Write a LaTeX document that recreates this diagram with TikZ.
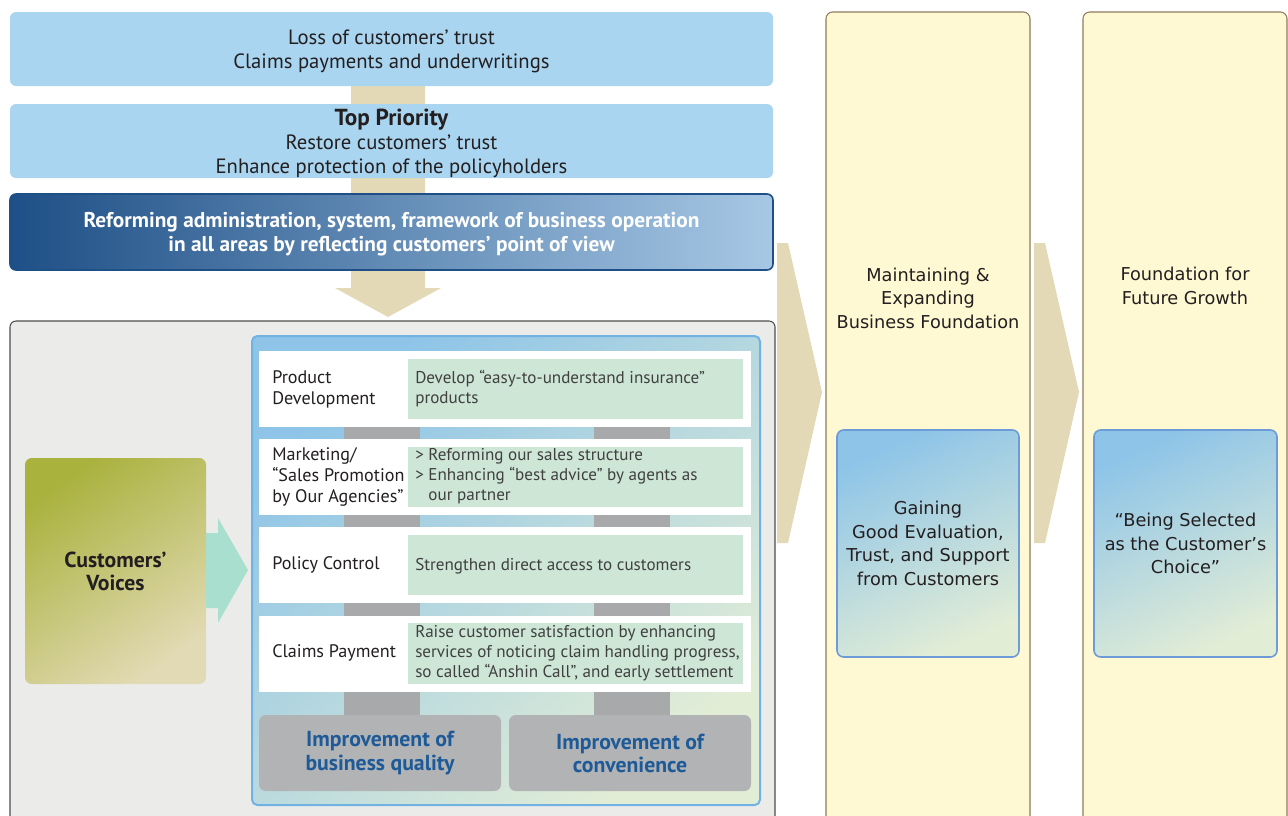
\documentclass[tikz,border=0pt]{standalone}
\usepackage{fontspec}
\setmainfont{PT Sans}
\newfontfamily\widefont{DejaVu Sans}
\usetikzlibrary{fit}

\definecolor{skyblue}{HTML}{A9D5F0}
\definecolor{sand}{HTML}{E3D9B6}
\definecolor{navy}{HTML}{1E4F86}
\definecolor{navylight}{HTML}{A7C8E5}
\definecolor{panelgray}{HTML}{EBECEA}
\definecolor{panelline}{HTML}{4D4D4D}
\definecolor{poolblue}{HTML}{8DC4E8}
\definecolor{poolgreen}{HTML}{E2EDD6}
\definecolor{poolline}{HTML}{72B2E2}
\definecolor{mint}{HTML}{CDE6D6}
\definecolor{linkgray}{HTML}{A8A9AB}
\definecolor{resultgray}{HTML}{B2B3B5}
\definecolor{textblue}{HTML}{1D5A97}
\definecolor{voiceolive}{HTML}{AAB23E}
\definecolor{voicebeige}{HTML}{E2DAB4}
\definecolor{voiceteal}{HTML}{A9DFCF}
\definecolor{cream}{HTML}{FFF9D3}
\definecolor{creamline}{HTML}{8C7B5E}
\definecolor{goalline}{HTML}{6C9BD8}
\definecolor{ink}{HTML}{231F20}
\definecolor{softink}{HTML}{404040}

\tikzset{
  issue/.style={fill=skyblue, rounded corners=4.5pt, inner sep=0pt},
  reform/.style={draw=navy, line width=1.2pt, rounded corners=4.5pt, left color=navy, right color=navylight, inner sep=0pt},
  toptext/.style={align=center, text=ink, yshift=-2pt, font=\fontsize{15.5}{18}\selectfont},
  panel/.style={fill=panelgray, draw=panelline, line width=0.8pt, rounded corners=4.5pt, inner sep=0pt},
  pool/.style={draw=poolline, line width=1.5pt, rounded corners=4pt, top color=poolblue, bottom color=poolgreen, shading angle=40, inner sep=0pt},
  row/.style={fill=white, inner sep=0pt},
  aim/.style={fill=mint, inner sep=0pt},
  rowlabel/.style={anchor=west, align=left, text=ink, font=\fontsize{13.6}{15.8}\selectfont, inner sep=0pt},
  aimtext/.style={anchor=west, align=left, text=softink, font=\fontsize{12.8}{15}\selectfont, inner sep=0pt},
  result/.style={fill=resultgray, rounded corners=5pt, inner sep=0pt, align=center, text=textblue, font=\bfseries\fontsize{16.3}{17.3}\selectfont},
  voice/.style={top color=voiceolive, bottom color=voicebeige, shading angle=35, rounded corners=5pt, inner sep=0pt},
  column/.style={fill=cream, draw=creamline, line width=0.8pt, rounded corners=5pt, inner sep=0pt},
  goal/.style={draw=goalline, line width=1.2pt, rounded corners=5pt, top color=poolblue, bottom color=poolgreen, shading angle=25, inner sep=0pt},
  goaltext/.style={align=center, text=ink, font=\widefont\fontsize{13.3}{17.6}\selectfont}
}

\begin{document}
\begin{tikzpicture}[x=0.75pt, y=-0.75pt]
\useasboundingbox (0,0) rectangle (1288,815);

% background arrow down the left stack
\fill[sand] (351,80) -- (425,80) -- (425,288) -- (441,288) -- (388,317) -- (335,288) -- (351,288) -- cycle;

% the three stacked boxes
\node[issue, fit={(10,12) (773,86)}] (loss) {};
\node[toptext] (losstext) at (loss) {Loss of customers’ trust\\Claims payments and underwritings};
\node[issue, fit={(10,104) (773,178)}] (priority) {};
\node[toptext] (prioritytext) at (priority) {\textbf{\fontsize{17.4}{18}\selectfont Top Priority}\\Restore customers’ trust\\Enhance protection of the policyholders};
\node[reform, fit={(10,194) (773,270)}] (reform) {};
\node[toptext, text=white, font=\bfseries\fontsize{16}{18}\selectfont] (reformtext) at (reform) {Reforming administration, system, framework of business operation\\in all areas by reflecting customers’ point of view};

% lower panel
\node[panel, fit={(10,321) (775,840)}] (base) {};
\node[voice, fit={(25,458) (206,684)}] (voices) {};
\node[align=center, text=ink, font=\bfseries\fontsize{16.3}{17.3}\selectfont] (voicestext) at (voices) {Customers’\\Voices};
\fill[voiceteal] (206,533) -- (218,533) -- (218,518) -- (248,570) -- (218,623) -- (218,608) -- (206,608) -- cycle;

\node[pool, fit={(252,336) (760,805)}] (pool) {};
% grey links running down to the two results
\fill[linkgray] (344,420) rectangle (420,720);
\fill[linkgray] (594,420) rectangle (670,720);

\node[row, fit={(259,351) (751,427)}] (product) {};
\node[row, fit={(259,439) (751,515)}] (marketing) {};
\node[row, fit={(259,527) (751,603)}] (policy) {};
\node[row, fit={(259,616) (751,692)}] (claims) {};
\node[aim, fit={(408,359) (743,419)}] (productaim) {};
\node[aim, fit={(408,447) (743,507)}] (marketingaim) {};
\node[aim, fit={(408,535) (743,595)}] (policyaim) {};
\node[aim, fit={(408,623) (743,684)}] (claimsaim) {};

\node[rowlabel] (productlabel) at (272,389) {Product\\Development};
\node[rowlabel] (marketinglabel) at (272,477) {Marketing/\\“Sales Promotion\\by Our Agencies”};
\node[rowlabel] (policylabel) at (272,565) {Policy Control};
\node[rowlabel] (claimslabel) at (272,653) {Claims Payment};

\node[aimtext] (producttext) at (415,389) {Develop “easy-to-understand insurance”\\products};
\node[aimtext] (marketingtext) at (415,476) {> Reforming our sales structure\\> Enhancing “best advice” by agents as\\\hphantom{> }our partner};
\node[aimtext] (policytext) at (415,566) {Strengthen direct access to customers};
\node[aimtext] (claimstext) at (415,653) {Raise customer satisfaction by enhancing\\services of noticing claim handling progress,\\so called “Anshin Call”, and early settlement};

\node[result, fit={(259,715) (501,791)}] (quality) {};
\node[result, fill=none] (qualitytext) at (quality) {Improvement of\\business quality};
\node[result, fit={(509,715) (751,791)}] (convenience) {};
\node[result, fill=none] (conveniencetext) at (convenience) {Improvement of\\convenience};

% right hand columns
\fill[sand] (777,243) -- (788,243) -- (822,392) -- (788,543) -- (777,543) -- cycle;
\node[column, fit={(826,12) (1030,840)}] (maintain) {};
\node[goaltext] (maintaintext) at (928,298) {Maintaining \&\\Expanding\\Business Foundation};
\node[goal, fit={(837,430) (1019,657)}] (evaluation) {};
\node[goaltext] (evaluationtext) at (evaluation) {Gaining\\Good Evaluation,\\Trust, and Support\\from Customers};

\fill[sand] (1034,243) -- (1045,243) -- (1079,392) -- (1045,543) -- (1034,543) -- cycle;
\node[column, fit={(1083,12) (1287,840)}] (growth) {};
\node[goaltext] (growthtext) at (1185,286) {Foundation for\\Future Growth};
\node[goal, fit={(1094,430) (1277,657)}] (choice) {};
\node[goaltext] (choicetext) at (choice) {“Being Selected\\as the Customer’s\\Choice”};
\end{tikzpicture}
\end{document}
